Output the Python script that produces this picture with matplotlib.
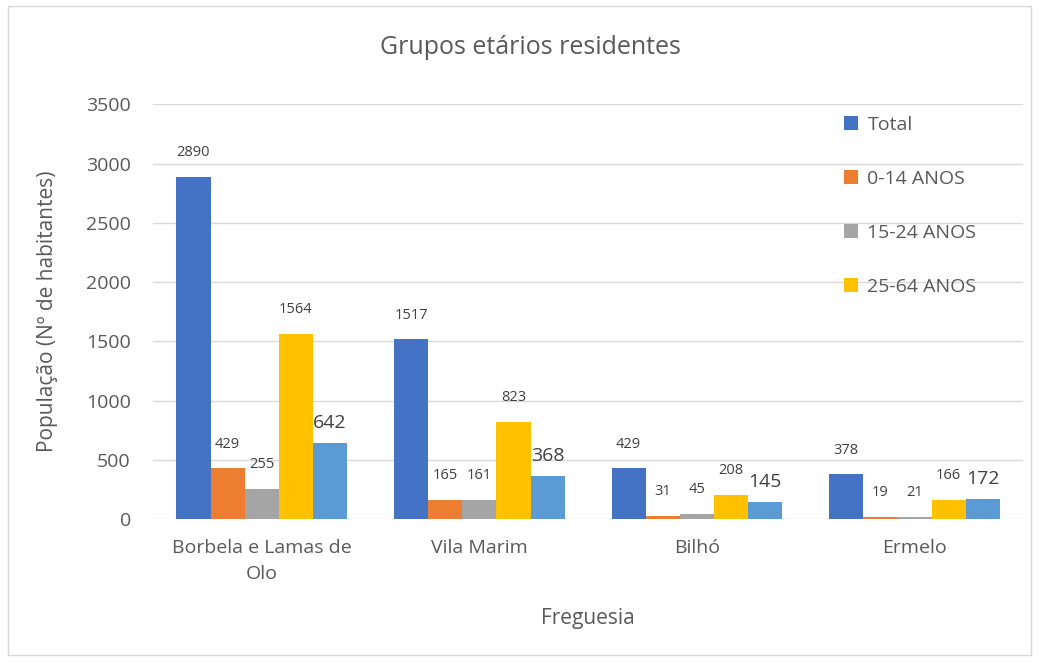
import matplotlib.pyplot as plt
import matplotlib.patches as mpatches
import numpy as np

plt.rcParams['font.family'] = ['Open Sans', 'DejaVu Sans']

# Dados
freguesias = ['Borbela e Lamas de\nOlo', 'Vila Marim', 'Bilhó', 'Ermelo']
total = [2890, 1517, 429, 378]
anos_0_14 = [429, 165, 31, 19]
anos_15_24 = [255, 161, 45, 21]
anos_25_64 = [1564, 823, 208, 166]
anos_65 = [642, 368, 145, 172]

series = [total, anos_0_14, anos_15_24, anos_25_64, anos_65]
nomes = ['Total', '0-14 ANOS', '15-24 ANOS', '25-64 ANOS', '65+ ANOS']
cores = ['#4472C4', '#ED7D31', '#A5A5A5', '#FFC000', '#5B9BD5']

cinza = '#595959'

fig = plt.figure(figsize=(10.41, 6.64), dpi=100)
ax = fig.add_axes([0.147, 0.218, 0.836, 0.625])

# moldura à volta do gráfico
fig.patches.append(mpatches.Rectangle((0.008, 0.013), 0.982, 0.978, transform=fig.transFigure,
                                      fill=False, edgecolor='#d9d9d9', linewidth=1))

x = np.arange(len(freguesias))
largura = 0.157
barras = []
for i, (vals, nome, cor) in enumerate(zip(series, nomes, cores)):
    pos = x + (i - 2) * largura
    b = ax.bar(pos, vals, largura, color=cor, label=nome, zorder=3)
    barras.append(b)
    if i == 4:
        ax.bar_label(b, padding=8, fontsize=14, color='#404040')
    else:
        ax.bar_label(b, padding=12, fontsize=10.5, color='#404040')

ax.set_ylim(0, 3500)
ax.set_xlim(-0.5, 3.5)
ax.set_yticks(range(0, 3501, 500))
ax.set_xticks(x)
ax.set_xticklabels(freguesias, linespacing=1.6)
ax.tick_params(length=0, labelsize=14, colors=cinza)
ax.tick_params(axis='y', pad=16)
ax.tick_params(axis='x', pad=14)
ax.grid(axis='y', color='#d9d9d9', linewidth=1, zorder=0)
for s in ax.spines.values():
    s.set_visible(False)

fig.text(0.51, 0.928, 'Grupos etários residentes', fontsize=18, color=cinza,
         ha='center', va='center')
ax.set_ylabel('População (Nº de habitantes)', fontsize=15, color=cinza, labelpad=20)
ax.set_xlabel('Freguesia', fontsize=15, color=cinza, labelpad=18)

leg = fig.legend(handles=barras[:4], labels=nomes[:4], loc='upper left',
                 bbox_to_anchor=(0.794, 0.852), frameon=False, fontsize=14,
                 handlelength=0.7, handleheight=0.7, handletextpad=0.5,
                 labelspacing=1.85, labelcolor=cinza)

fig.savefig('out.png', dpi=100)
